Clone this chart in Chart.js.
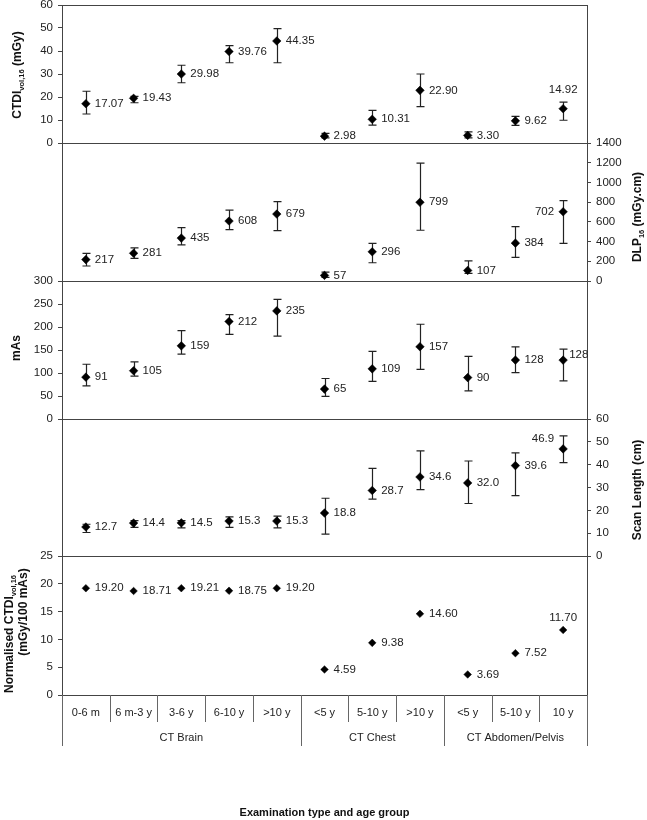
<!DOCTYPE html>
<html>
<head>
<meta charset="utf-8">
<script src="https://cdn.jsdelivr.net/npm/chart.js@4.4.1/dist/chart.umd.min.js"></script>
<style>
html, body { margin: 0; padding: 0; background: #fff; }
#wrap { position: relative; width: 647px; height: 820px; }
#wrap canvas { position: absolute; left: 0; top: 0; }
</style>
</head>
<body>
<div id="wrap">
  <canvas id="p1" width="647" height="820"></canvas>
  <canvas id="p2" width="647" height="820"></canvas>
  <canvas id="p3" width="647" height="820"></canvas>
  <canvas id="p4" width="647" height="820"></canvas>
  <canvas id="p5" width="647" height="820"></canvas>
</div>
<script>
// categories (age groups) and examination groups
const categories = ['0-6 m', '6 m-3 y', '3-6 y', '6-10 y', '>10 y', '<5 y', '5-10 y', '>10 y', '<5 y', '5-10 y', '10 y'];
const groups = ['CT Brain', 'CT Chest', 'CT Abdomen/Pelvis'];
const groupSizes = [5, 3, 3];

// CTDIvol,16 (mGy)
const ctdi = [17.07, 19.43, 29.98, 39.76, 44.35, 2.98, 10.31, 22.90, 3.30, 9.62, 14.92];
const ctdiLow = [12.6, 17.5, 26.2, 34.9, 34.9, 2.2, 7.8, 15.8, 2.2, 7.7, 9.9];
const ctdiHigh = [22.5, 20.3, 33.8, 42.3, 49.7, 4.2, 14.2, 30.0, 4.8, 11.6, 17.8];

// DLP16 (mGy.cm)
const dlp = [217, 281, 435, 608, 679, 57, 296, 799, 107, 384, 702];
const dlpLow = [152, 229, 367, 522, 512, 37, 185, 515, 78, 239, 381];
const dlpHigh = [280, 337, 542, 720, 805, 91, 381, 1195, 205, 552, 815];

// mAs
const mas = [91, 105, 159, 212, 235, 65, 109, 157, 90, 128, 128];
const masLow = [72, 93, 141, 184, 180, 49, 82, 108, 61, 101, 83];
const masHigh = [119, 124, 192, 227, 260, 88, 147, 206, 136, 157, 152];

// scan length (cm)
const scan = [12.7, 14.4, 14.5, 15.3, 15.3, 18.8, 28.7, 34.6, 32.0, 39.6, 46.9];
const scanLow = [10.3, 12.5, 12.3, 12.5, 12.3, 9.6, 24.9, 29.1, 23.0, 26.4, 40.9];
const scanHigh = [13.9, 15.5, 15.5, 17.1, 17.5, 25.3, 38.4, 46.0, 41.6, 45.2, 52.6];

// normalised CTDIvol,16 (mGy/100 mAs)
const norm = [19.20, 18.71, 19.21, 18.75, 19.20, 4.59, 9.38, 14.60, 3.69, 7.52, 11.70];

const FONT = '"Liberation Sans", Arial, sans-serif';
Chart.defaults.font.family = FONT;
Chart.defaults.color = '#222';

const W = 647, H = 820;
const plotLeft = 62, plotRight = 587;
const panelTop = [5, 143, 281, 419, 556];
const panelBottom = [143, 281, 419, 556, 695];

// rotated axis title with optional subscript parts
function drawTitle(ctx, x, y, parts) {
  ctx.save();
  ctx.translate(x, y);
  ctx.rotate(-Math.PI / 2);
  ctx.fillStyle = '#111';
  ctx.textBaseline = 'middle';
  ctx.textAlign = 'left';
  const big = 'bold 12px ' + FONT, small = 'bold 7.5px ' + FONT;
  let total = 0;
  parts.forEach(p => { ctx.font = p[1] ? small : big; total += ctx.measureText(p[0]).width; });
  let cx = -total / 2;
  parts.forEach(p => {
    ctx.font = p[1] ? small : big;
    ctx.fillText(p[0], cx, p[1] ? 4 : 0);
    cx += ctx.measureText(p[0]).width;
  });
  ctx.restore();
}

const panels = [
  { id: 'p1', values: ctdi, low: ctdiLow, high: ctdiHigh, digits: 2, side: 'left', max: 60, step: 10,
    last: { mode: 'above' }, radius: 4.3,
    titles: [{ x: 18, y: 75, parts: [['CTDI'], ['vol,16', true], [' (mGy)']] }] },
  { id: 'p2', values: dlp, low: dlpLow, high: dlpHigh, digits: 0, side: 'right', max: 1400, step: 200,
    last: { mode: 'left', dx: -9, dy: 0 }, radius: 4.3,
    titles: [{ x: 638, y: 217, parts: [['DLP'], ['16', true], [' (mGy.cm)']] }] },
  { id: 'p3', values: mas, low: masLow, high: masHigh, digits: 0, side: 'left', max: 300, step: 50,
    last: { mode: 'right', dx: 6, dy: -5 }, radius: 4.3,
    titles: [{ x: 17, y: 348, parts: [['mAs']] }] },
  { id: 'p4', values: scan, low: scanLow, high: scanHigh, digits: 1, side: 'right', max: 60, step: 10,
    last: { mode: 'left', dx: -9, dy: -10 }, radius: 4.3,
    titles: [{ x: 638, y: 490, parts: [['Scan Length (cm)']] }] },
  { id: 'p5', values: norm, low: null, high: null, digits: 2, side: 'left', max: 25, step: 5,
    last: { mode: 'above' }, radius: 3.8,
    titles: [{ x: 10, y: 634, parts: [['Normalised CTDI'], ['vol,16', true]] },
             { x: 24, y: 612, parts: [['(mGy/100 mAs)']] }] }
];

function makePanel(p, idx) {
  const isLast = idx === panels.length - 1;

  const panelPlugin = {
    id: 'panel' + idx,
    beforeDatasetsDraw(chart) {
      const { ctx, chartArea: a, scales: { x, y } } = chart;
      ctx.save();
      // panel frame
      ctx.strokeStyle = '#444';
      ctx.lineWidth = 1;
      ctx.strokeRect(Math.round(a.left) + 0.5, Math.round(a.top) + 0.5, Math.round(a.right - a.left), Math.round(a.bottom - a.top));
      // error bars
      if (p.low) {
        ctx.strokeStyle = '#222';
        ctx.lineWidth = 1.2;
        p.low.forEach((lo, i) => {
          const px = Math.round(x.getPixelForValue(i)) + 0.5;
          const y1 = y.getPixelForValue(lo), y2 = y.getPixelForValue(p.high[i]);
          ctx.beginPath();
          ctx.moveTo(px, y1); ctx.lineTo(px, y2);
          ctx.moveTo(px - 4, y1); ctx.lineTo(px + 4, y1);
          ctx.moveTo(px - 4, y2); ctx.lineTo(px + 4, y2);
          ctx.stroke();
        });
      }
      ctx.restore();
    },
    afterDatasetsDraw(chart) {
      const { ctx, scales: { y } } = chart;
      const meta = chart.getDatasetMeta(0);
      ctx.save();
      ctx.font = '11.5px ' + FONT;
      ctx.fillStyle = '#222';
      ctx.textBaseline = 'middle';
      p.values.forEach((v, i) => {
        const pt = meta.data[i];
        const txt = v.toFixed(p.digits);
        if (i === p.values.length - 1 && p.last.mode !== 'right') {
          if (p.last.mode === 'above') {
            const top = p.high ? Math.min(pt.y, y.getPixelForValue(p.high[i])) : pt.y;
            ctx.textAlign = 'center';
            ctx.fillText(txt, pt.x, top - 12.5);
          } else {
            ctx.textAlign = 'right';
            ctx.fillText(txt, pt.x + p.last.dx, pt.y + p.last.dy);
          }
        } else if (i === p.values.length - 1) {
          ctx.textAlign = 'left';
          ctx.fillText(txt, pt.x + p.last.dx, pt.y + p.last.dy);
        } else {
          ctx.textAlign = 'left';
          ctx.fillText(txt, pt.x + 9, pt.y);
        }
      });
      ctx.restore();
    },
    afterDraw(chart) {
      const { ctx } = chart;
      p.titles.forEach(t => drawTitle(ctx, t.x, t.y, t.parts));
      if (!isLast) return;
      // category table under the x axis
      const x = chart.scales.x;
      const axisY = chart.chartArea.bottom;
      ctx.save();
      ctx.strokeStyle = '#666';
      ctx.lineWidth = 1;
      const groupEdges = [-0.5];
      groupSizes.reduce((acc, n) => { groupEdges.push(acc + n - 0.5); return acc + n; }, 0);
      for (let i = 0; i <= categories.length; i++) {
        const b = i - 0.5;
        const px = Math.round(x.getPixelForValue(b)) + 0.5;
        const full = groupEdges.includes(b);
        ctx.beginPath();
        ctx.moveTo(px, axisY);
        ctx.lineTo(px, axisY + (full ? 51 : 27));
        ctx.stroke();
      }
      ctx.font = '11px ' + FONT;
      ctx.fillStyle = '#222';
      ctx.textAlign = 'center';
      ctx.textBaseline = 'middle';
      let start = 0;
      groups.forEach((g, gi) => {
        const end = start + groupSizes[gi] - 1;
        const cx = (x.getPixelForValue(start - 0.5) + x.getPixelForValue(end + 0.5)) / 2;
        ctx.fillText(g, cx, axisY + 43);
        start = end + 1;
      });
      ctx.restore();
    }
  };

  return new Chart(document.getElementById(p.id), {
    type: 'line',
    data: {
      labels: categories,
      datasets: [{
        data: p.values,
        showLine: false,
        pointStyle: 'rectRot',
        pointRadius: p.radius,
        pointHoverRadius: p.radius,
        pointBackgroundColor: '#000',
        pointBorderColor: '#000',
        pointBorderWidth: 0.5
      }]
    },
    options: {
      responsive: false,
      animation: false,
      events: [],
      layout: {
        padding: {
          top: panelTop[idx],
          bottom: isLast ? 0 : H - panelBottom[idx],
          left: p.side === 'right' ? plotLeft : 0,
          right: p.side === 'left' ? W - plotRight : 0
        }
      },
      plugins: { legend: { display: false }, tooltip: { enabled: false } },
      scales: {
        x: {
          type: 'category',
          offset: true,
          display: isLast,
          grid: { display: false, drawTicks: false },
          border: { display: false },
          ticks: { font: { size: 11 }, color: '#222', padding: 11, autoSkip: false, maxRotation: 0 },
          title: {
            display: true,
            text: 'Examination type and age group',
            font: { size: 11, weight: 'bold' },
            color: '#111',
            padding: { top: 0, bottom: 0 }
          },
          afterFit(s) { s.height = isLast ? H - panelBottom[idx] : 0; s.paddingLeft = 0; s.paddingRight = 0; }
        },
        y: {
          position: p.side,
          min: 0,
          max: p.max,
          grid: { drawOnChartArea: false, tickLength: 4, color: '#444' },
          border: { display: false },
          ticks: { stepSize: p.step, font: { size: 11.5 }, color: '#222', padding: 5, callback: v => String(v) },
          afterFit(s) {
            s.width = p.side === 'left' ? plotLeft : W - plotRight;
            s.paddingTop = 0;
            s.paddingBottom = 0;
          }
        }
      }
    },
    plugins: [panelPlugin]
  });
}

panels.forEach((p, i) => makePanel(p, i));
</script>
</body>
</html>
